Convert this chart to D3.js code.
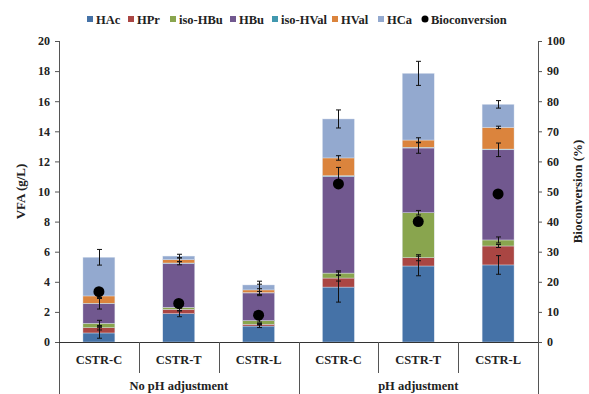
<!doctype html>
<html>
<head>
  <meta charset='utf-8'>
  <style>
    body { margin: 0; background: #fff; }
    text { font-family: 'Liberation Serif', 'Times New Roman', serif; font-weight: bold; fill: #222; }
    .tick text { font-size: 12px; }
  </style>
</head>
<body>
  <svg width='589' height='394'></svg>
  <script src='https://d3js.org/d3.v7.min.js'></script>
  <script>
    // chart values
    var categories = ['CSTR-C', 'CSTR-T', 'CSTR-L', 'CSTR-C', 'CSTR-T', 'CSTR-L'];
    var groups = ['No pH adjustment', 'pH adjustment'];
    var seriesNames = ['HAc', 'HPr', 'iso-HBu', 'HBu', 'iso-HVal', 'HVal', 'HCa'];

    var HAc     = [0.60, 1.88, 1.06, 3.65, 5.05, 5.12];
    var HPr     = [0.35, 0.29, 0.12, 0.60, 0.55, 1.26];
    var isoHBu  = [0.29, 0.13, 0.24, 0.33, 2.99, 0.40];
    var HBu     = [1.30, 2.93, 1.84, 6.42, 4.30, 5.99];
    var isoHVal = [0.03, 0.02, 0.02, 0.05, 0.05, 0.05];
    var HVal    = [0.49, 0.22, 0.18, 1.18, 0.48, 1.44];
    var HCa     = [2.57, 0.24, 0.33, 2.59, 4.43, 1.53];

    var errHAc     = [0.35, 0.20, 0.10, 1.00, 0.65, 0.62];
    var errHPr     = [0.15, 0.10, 0.05, 0.20, 0.20, 0.10];
    var errIsoHBu  = [0.20, 0.05, 0.10, 0.15, 0.15, 0.20];
    var errHBu     = [0.35, 0.10, 0.10, 0.60, 0.35, 0.45];
    var errIsoHVal = [0, 0, 0, 0, 0, 0];
    var errHVal    = [0.10, 0.12, 0.38, 0.15, 0.15, 0.08];
    var errHCa     = [0.52, 0.12, 0.25, 0.60, 0.80, 0.25];

    var bioconversion = [16.7, 12.8, 8.9, 52.5, 40.0, 49.2];

    var vfaTicks = [0, 2, 4, 6, 8, 10, 12, 14, 16, 18, 20];
    var bioTicks = [0, 10, 20, 30, 40, 50, 60, 70, 80, 90, 100];

    var values = [HAc, HPr, isoHBu, HBu, isoHVal, HVal, HCa];
    var errors = [errHAc, errHPr, errIsoHBu, errHBu, errIsoHVal, errHVal, errHCa];
    var colors = ['#4572a7', '#aa4643', '#89a54e', '#71588f', '#4198af', '#db843d', '#93a9cf'];

    var svg = d3.select('svg');
    var plotL = 59, plotR = 538, plotT = 41, plotB = 342;

    var x = d3.scaleBand()
              .domain(d3.range(categories.length))
              .range([plotL, plotR])
              .paddingInner(0.6)
              .paddingOuter(0.3);
    var y = d3.scaleLinear().domain([0, 20]).range([plotB, plotT]);
    var y2 = d3.scaleLinear().domain([0, 100]).range([plotB, plotT]);

    // stacked table
    var table = categories.map(function(c, i) {
      var row = { i: i };
      seriesNames.forEach(function(s, k) { row[s] = values[k][i]; });
      return row;
    });
    var stack = d3.stack().keys(seriesNames)(table);

    var bars = svg.append('g');
    stack.forEach(function(layer, k) {
      bars.selectAll('.s' + k)
          .data(layer)
          .enter().append('rect')
          .attr('x', function(d) { return x(d.data.i); })
          .attr('width', x.bandwidth())
          .attr('y', function(d) { return y(d[1]); })
          .attr('height', function(d) { return y(d[0]) - y(d[1]); })
          .attr('fill', colors[k])
          .attr('stroke', '#dfe6f0')
          .attr('stroke-width', 0.4);
    });

    // error bars at the cumulative top of each segment
    var eb = svg.append('g').attr('stroke', '#111').attr('stroke-width', 1);
    stack.forEach(function(layer, k) {
      layer.forEach(function(d, i) {
        var e = errors[k][i];
        if (!e) return;
        var cx = Math.round(x(i) + x.bandwidth() / 2) + 0.5;
        eb.append('line').attr('x1', cx).attr('x2', cx)
          .attr('y1', y(d[1] + e)).attr('y2', y(d[1] - e));
        [d[1] + e, d[1] - e].forEach(function(v) {
          eb.append('line').attr('x1', cx - 2.5).attr('x2', cx + 2.5)
            .attr('y1', y(v)).attr('y2', y(v));
        });
      });
    });

    // bioconversion dots
    svg.append('g').selectAll('circle')
       .data(bioconversion)
       .enter().append('circle')
       .attr('cx', function(d, i) { return x(i) + x.bandwidth() / 2; })
       .attr('cy', function(d) { return y2(d); })
       .attr('r', 5.5)
       .attr('fill', '#000');

    // left axis
    var yAxis = svg.append('g')
       .attr('transform', 'translate(' + plotL + ',0)')
       .call(d3.axisLeft(y).tickValues(vfaTicks).tickSize(4).tickPadding(5));
    yAxis.select('.domain').remove();
    yAxis.selectAll('line').attr('stroke', '#555');

    // right axis
    var y2Axis = svg.append('g')
       .attr('transform', 'translate(' + plotR + ',0)')
       .call(d3.axisRight(y2).tickValues(bioTicks).tickSize(4).tickPadding(5));
    y2Axis.select('.domain').remove();
    y2Axis.selectAll('line').attr('stroke', '#555');

    var lines = svg.append('g').attr('stroke', '#555').attr('stroke-width', 1);
    lines.append('line').attr('x1', plotL + 0.5).attr('x2', plotL + 0.5).attr('y1', plotT).attr('y2', 394);
    lines.append('line').attr('x1', plotR + 0.5).attr('x2', plotR + 0.5).attr('y1', plotT).attr('y2', 394);
    lines.append('line').attr('x1', plotL).attr('x2', plotR).attr('y1', plotB + 0.5).attr('y2', plotB + 0.5)
         .attr('stroke', '#333');

    // category dividers
    d3.range(1, categories.length).forEach(function(i) {
      var xx = Math.round(x(i) - x.step() * x.paddingInner() / 2) + 0.5;
      lines.append('line').attr('x1', xx).attr('x2', xx)
           .attr('y1', plotB).attr('y2', i === 3 ? 394 : 373);
    });

    svg.append('g').selectAll('text')
       .data(categories)
       .enter().append('text')
       .attr('x', function(d, i) { return x(i) + x.bandwidth() / 2; })
       .attr('y', 364)
       .attr('text-anchor', 'middle')
       .style('font-size', '12.5px')
       .text(function(d) { return d; });

    svg.append('g').selectAll('text')
       .data(groups)
       .enter().append('text')
       .attr('x', function(d, i) {
         return (x(i * 3) + x(i * 3 + 2) + x.bandwidth()) / 2;
       })
       .attr('y', 390)
       .attr('text-anchor', 'middle')
       .style('font-size', '12.5px')
       .text(function(d) { return d; });

    // axis titles
    svg.append('text')
       .attr('transform', 'translate(25,' + (plotT + plotB) / 2 + ') rotate(-90)')
       .attr('text-anchor', 'middle')
       .style('font-size', '13px')
       .text('VFA (g/L)');
    svg.append('text')
       .attr('transform', 'translate(582,' + (plotT + plotB) / 2 + ') rotate(-90)')
       .attr('text-anchor', 'middle')
       .style('font-size', '13px')
       .text('Bioconversion (%)');

    // legend
    var legendX = [87, 128, 170, 230, 272, 332, 378];
    var legend = svg.append('g');
    seriesNames.forEach(function(s, k) {
      legend.append('rect').attr('x', legendX[k]).attr('y', 16)
            .attr('width', 6).attr('height', 6).attr('fill', colors[k]);
      legend.append('text').attr('x', legendX[k] + 9).attr('y', 23.5)
            .style('font-size', '12.5px').text(s);
    });
    legend.append('circle').attr('cx', 425).attr('cy', 19).attr('r', 3.5).attr('fill', '#000');
    legend.append('text').attr('x', 431).attr('y', 23.5)
          .style('font-size', '12.5px').text('Bioconversion');
  </script>
</body>
</html>
